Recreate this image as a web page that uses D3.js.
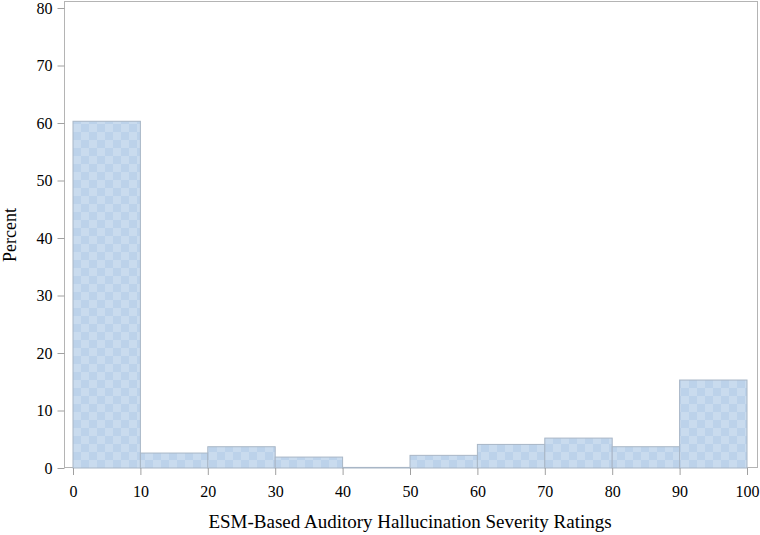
<!DOCTYPE html>
<html>
<head>
<meta charset="utf-8">
<script src="https://cdn.jsdelivr.net/npm/d3@7"></script>
<style>
  body { margin: 0; background: #fff; }
  svg text { font-family: "Liberation Serif", "Times New Roman", serif; fill: #000; }
</style>
</head>
<body>
<svg width="760" height="535"></svg>
<script>
// histogram bins (lower edge) and percent per bin
var binStarts = [0, 10, 20, 30, 40, 50, 60, 70, 80, 90];
var binWidth = 10;
var percents = [60.3, 2.6, 3.7, 1.9, 0.1, 2.2, 4.1, 5.2, 3.7, 15.3];
var xTicks = [0, 10, 20, 30, 40, 50, 60, 70, 80, 90, 100];
var yTicks = [0, 10, 20, 30, 40, 50, 60, 70, 80];

(function() {
  var svg = d3.select('svg'),
      mLeft = 64, mRight = 757, mTop = 2, mBottom = 468;

  var x = d3.scaleLinear().domain([0, 100]).range([73, 747]);
  var y = d3.scaleLinear().domain([0, 80]).range([mBottom, 8]);

  // checker fill
  var pat = svg.append('defs').append('pattern')
      .attr('id', 'checker')
      .attr('patternUnits', 'userSpaceOnUse')
      .attr('width', 16).attr('height', 16)
      .attr('x', x(0)).attr('y', mBottom);
  pat.append('rect').attr('width', 16).attr('height', 16).attr('fill', '#c9dbee');
  pat.append('rect').attr('width', 8).attr('height', 8).attr('fill', '#bcd2ea');
  pat.append('rect').attr('x', 8).attr('y', 8).attr('width', 8).attr('height', 8).attr('fill', '#bcd2ea');

  // frame
  svg.append('rect')
      .attr('x', mLeft + 0.5).attr('y', mTop - 0.5)
      .attr('width', mRight - mLeft).attr('height', mBottom - mTop)
      .attr('fill', 'none')
      .attr('stroke', '#b4b4b4');

  // bars
  svg.selectAll('rect.bar')
    .data(binStarts)
    .enter()
    .append('rect')
      .attr('class', 'bar')
      .attr('x', function(d) { return x(d); })
      .attr('y', function(d, i) { return y(percents[i]); })
      .attr('width', function(d) { return x(d + binWidth) - x(d); })
      .attr('height', function(d, i) { return mBottom - y(percents[i]); })
      .attr('fill', 'url(#checker)')
      .attr('stroke', '#a8b6c6')
      .attr('stroke-width', 1);

  // axes
  var xAxis = svg.append('g')
      .attr('transform', 'translate(0,' + mBottom + ')')
      .call(d3.axisBottom(x).tickValues(xTicks).tickSize(7).tickPadding(11));
  var yAxis = svg.append('g')
      .attr('transform', 'translate(' + (mLeft + 0.5) + ',0)')
      .call(d3.axisLeft(y).tickValues(yTicks).tickSize(7).tickPadding(5));

  [xAxis, yAxis].forEach(function(g) {
    g.attr('font-family', '"Liberation Serif", serif').attr('font-size', 16);
    g.select('.domain').remove();
    g.selectAll('.tick line').attr('stroke', '#a0a0a0');
    g.selectAll('.tick text').attr('fill', '#000');
  });

  // titles
  svg.append('text')
      .attr('x', 410)
      .attr('y', 528)
      .attr('text-anchor', 'middle')
      .attr('font-size', 19)
      .text('ESM-Based Auditory Hallucination Severity Ratings');

  svg.append('text')
      .attr('transform', 'translate(16,' + (mTop + mBottom) / 2 + ') rotate(-90)')
      .attr('text-anchor', 'middle')
      .attr('font-size', 18)
      .text('Percent');
})();
</script>
</body>
</html>
